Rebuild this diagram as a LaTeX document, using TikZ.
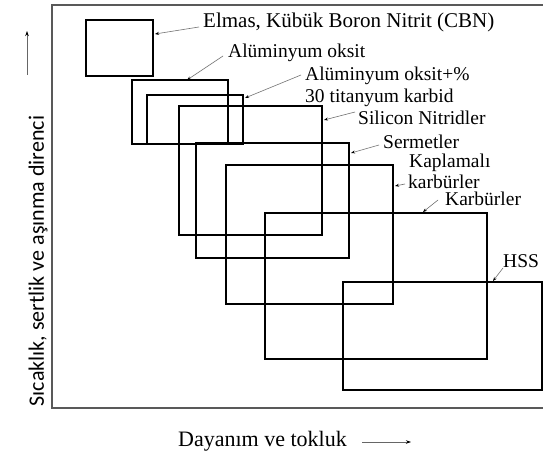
\documentclass[tikz,border=0pt]{standalone}
\usepackage{fontspec}
\setmainfont{Liberation Serif}
\newfontfamily\axisfont{Carlito}
\usetikzlibrary{arrows.meta}
\begin{document}
\begin{tikzpicture}[x=1pt,y=-1pt,
  tool/.style={draw=black,line width=1.8pt},
  lbl/.style={anchor=base west,inner sep=0pt,font=\fontsize{19.5}{22}\selectfont},
  pointer/.style={draw=black!55,line width=0.6pt,-{Stealth[length=4pt,width=3pt,black]}},
  axisarrow/.style={draw=black!60,line width=0.7pt,-{Stealth[length=5pt,width=3.5pt,black]}}]
\useasboundingbox (0,0) rectangle (543,454);
\fill[white] (0,0) rectangle (543,454);

% frame of the chart area (its right side lies beyond the page)
\draw[black!65,line width=1.2pt] (548,5) -- (52,5) -- (52,408) -- (548,408);

% tool material ranges
\draw[tool] (86,20) rectangle (153,76);
\draw[tool] (132,80) rectangle (228,144);
\draw[tool] (147,95) rectangle (243,144);
\draw[tool] (179,106) rectangle (322,235);
\draw[tool] (196,143) rectangle (349,258);
\draw[tool] (226,165) rectangle (393,304);
\draw[tool] (265,213) rectangle (487,359);
\draw[tool] (343,282) rectangle (542,390);

% labels
\node[lbl,font=\fontsize{21}{24}\selectfont] (tElmas) at (203,28) {Elmas, Kübük Boron Nitrit (CBN)};
\node[lbl] (tAl)    at (228,58) {Alüminyum oksit};
\node[lbl] (tAlTi)  at (305,81) {Alüminyum oksit+\%};
\node[lbl] (tAlTiB) at (305,103) {30 titanyum karbid};
\node[lbl] (tSi)    at (358,125) {Silicon Nitridler};
\node[lbl] (tSer)   at (383,149) {Sermetler};
\node[lbl] (tKap)   at (409,168) {Kaplamalı};
\node[lbl,text depth=0pt] (tKapB)  at (408,189) {karbürler};
\node[lbl] (tKar)   at (445,206) {Karbürler};
\node[lbl] (tHss)   at (503,268) {HSS};

% pointer ends
\coordinate (sElmas) at (199,27);  \coordinate (eElmas) at (155,34);
\coordinate (sAl)    at (223,56);  \coordinate (eAl)    at (187,80);
\coordinate (sAlTi)  at (301,75);  \coordinate (eAlTi)  at (245,98);
\coordinate (sSi)    at (355,112); \coordinate (eSi)    at (324,120);
\coordinate (sSer)   at (379,145); \coordinate (eSer)   at (351,153);
\coordinate (sKap)   at (405,184); \coordinate (eKap)   at (395,186);
\coordinate (sKar)   at (438,200); \coordinate (eKar)   at (423,212);
\coordinate (sHss)   at (503,268); \coordinate (eHss)   at (493,281);

\draw[pointer] (sElmas) -- (eElmas);
\draw[pointer] (sAl) -- (eAl);
\draw[pointer] (sAlTi) -- (eAlTi);
\draw[pointer] (sSi) -- (eSi);
\draw[pointer] (sSer) -- (eSer);
\draw[pointer] (sKap) -- (eKap);
\draw[pointer] (sKar) -- (eKar);
\draw[pointer] (sHss) -- (eHss);

% axis titles
\node[rotate=90,inner sep=0pt,font=\axisfont\fontsize{22}{25}\selectfont] (yTitle) at (38,261) {Sıcaklık, sertlik ve aşınma direnci};
\coordinate (yA) at (27,75); \coordinate (yB) at (27,31);
\draw[axisarrow] (yA) -- (yB);

\node[lbl,font=\fontsize{22}{25}\selectfont] (xTitle) at (178,446) {Dayanım ve tokluk};
\coordinate (xA) at (362,442); \coordinate (xB) at (411,442);
\draw[axisarrow] (xA) -- (xB);
\end{tikzpicture}
\end{document}
